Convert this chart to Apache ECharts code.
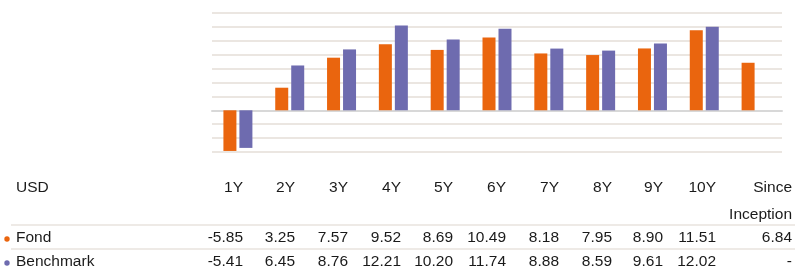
<!DOCTYPE html>
<html>
<head>
<meta charset="utf-8">
<script src="https://cdn.jsdelivr.net/npm/echarts@6/dist/echarts.min.js"></script>
<style>
  html, body { margin: 0; padding: 0; background: #fff; }
  #chart { width: 795px; height: 270px; }
</style>
</head>
<body>
<div id="chart"></div>
<script>
// data
const periods = ['1Y', '2Y', '3Y', '4Y', '5Y', '6Y', '7Y', '8Y', '9Y', '10Y', 'Since\nInception'];
const fond = [-5.85, 3.25, 7.57, 9.52, 8.69, 10.49, 8.18, 7.95, 8.90, 11.51, 6.84];
const benchmark = [-5.41, 6.45, 8.76, 12.21, 10.20, 11.74, 8.88, 8.59, 9.61, 12.02, null];
const currency = 'USD';
const seriesNames = ['Fond', 'Benchmark'];

const ORANGE = '#EA650E';
const PURPLE = '#6E6BAF';
const TXT = '#1a1a1a';
const FONT = '15.5px "Liberation Sans", Arial, sans-serif';

// table layout: right edge of each column
const colRight = [243, 295, 348, 401, 453, 506, 559, 612, 663, 716, 792];
const rowY = { head: 188, head2: 215, fond: 238, bench: 262 };

const chart = echarts.init(document.getElementById('chart'));

function fmt(v) {
  return v === null ? '-' : v.toFixed(2);
}

function tableGraphics() {
  const els = [];
  const txt = (text, x, y, align) => ({
    type: 'text', silent: true,
    style: { text: text, x: x, y: y, align: align || 'right', verticalAlign: 'middle', font: FONT, fill: TXT }
  });
  els.push(txt(currency, 16, rowY.head, 'left'));
  periods.forEach((p, i) => {
    const parts = p.split('\n');
    els.push(txt(parts[0], colRight[i], rowY.head));
    if (parts[1]) els.push(txt(parts[1], colRight[i], rowY.head2));
  });
  // separator lines
  [225, 249].forEach(y => {
    els.push({ type: 'line', silent: true, shape: { x1: 11, y1: y, x2: 795, y2: y },
      style: { stroke: '#e8e3de', lineWidth: 1.5 } });
  });
  const rows = [[seriesNames[0], fond, ORANGE, rowY.fond], [seriesNames[1], benchmark, PURPLE, rowY.bench]];
  rows.forEach(r => {
    els.push({ type: 'circle', silent: true, shape: { cx: 7, cy: r[3] + 1, r: 2.7 }, style: { fill: r[2] } });
    els.push(txt(r[0], 16, r[3], 'left'));
    r[1].forEach((v, i) => els.push(txt(fmt(v), colRight[i], r[3])));
  });
  return els;
}

const option = {
  animation: false,
  grid: { left: 212, right: 13, top: 13, bottom: 118, containLabel: false },
  xAxis: {
    type: 'category',
    data: periods,
    axisLine: { onZero: true, lineStyle: { color: '#d8d8d8', width: 2 } },
    axisTick: { show: false },
    axisLabel: { show: false }
  },
  yAxis: {
    type: 'value',
    min: -6,
    max: 14,
    interval: 2,
    axisLabel: { show: false },
    axisLine: { show: false },
    axisTick: { show: false },
    splitLine: { lineStyle: { color: '#ebe6e1', width: 2 } }
  },
  series: [
    { name: seriesNames[0], type: 'bar', data: fond, barWidth: 13, barGap: '23%', itemStyle: { color: ORANGE } },
    { name: seriesNames[1], type: 'bar', data: benchmark, barWidth: 13, itemStyle: { color: PURPLE } }
  ],
  graphic: tableGraphics()
};

chart.setOption(option);
</script>
</body>
</html>
